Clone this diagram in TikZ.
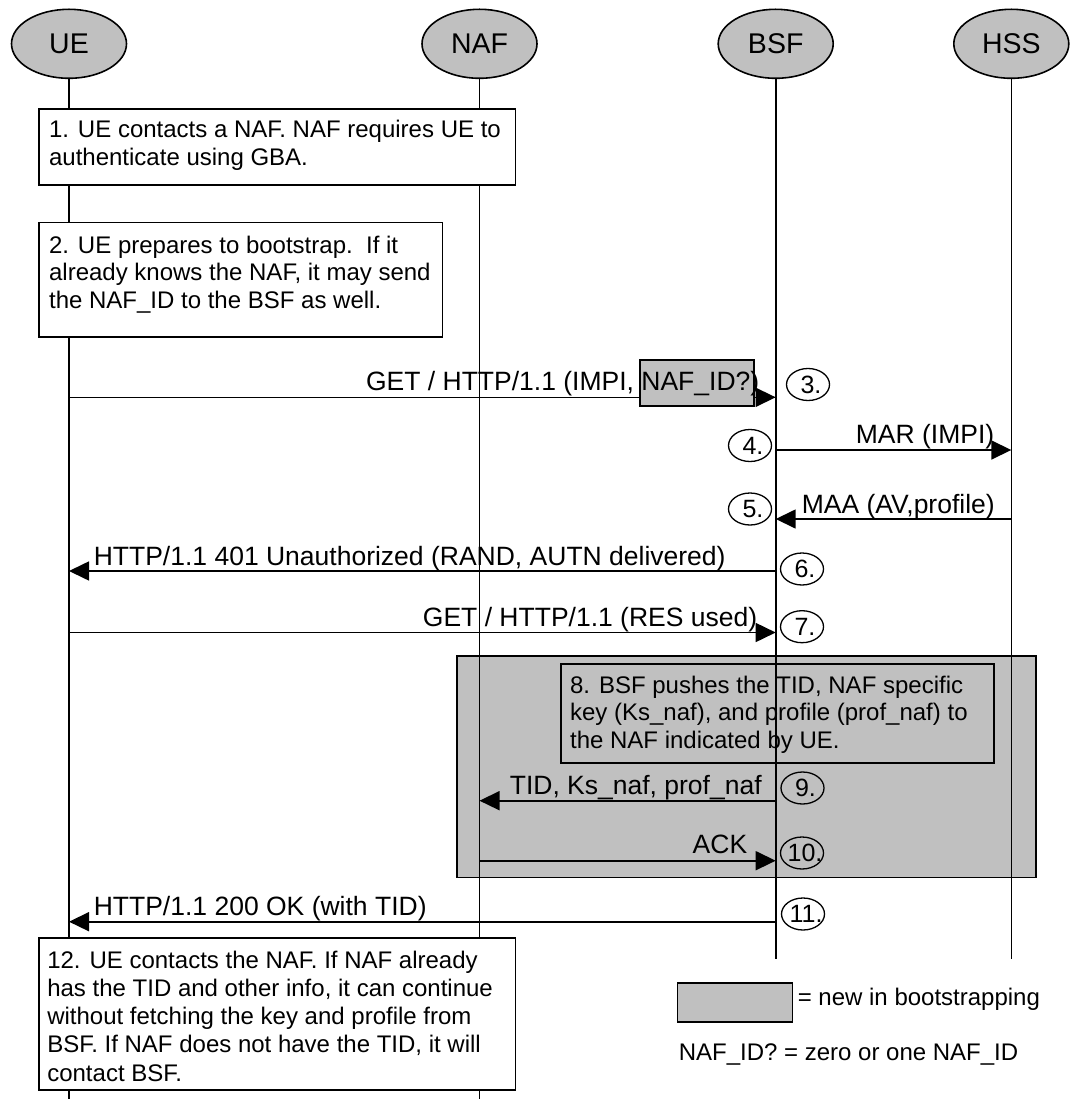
\documentclass[tikz,border=0pt]{standalone}
\usepackage{fontspec}
\setmainfont{Liberation Sans}
\usetikzlibrary{arrows.meta,shapes.geometric,calc}
\definecolor{gr}{RGB}{192,192,192}
\begin{document}
\begin{tikzpicture}[x=1pt,y=-1pt,line width=1.6pt,
  actor/.style={ellipse,draw,fill=gr,minimum width=115pt,minimum height=69pt,inner sep=0pt,font=\fontsize{28.5}{32}\selectfont},
  life/.style={line width=1.6pt},
  msg/.style={-{Triangle[length=20pt,width=19pt]}},
  lbl/.style={inner sep=0pt,font=\fontsize{24}{27.6}\selectfont},
  lbltall/.style={inner sep=0pt,font=\fontsize{24}{28.3}\selectfont},
  mlbl/.style={inner sep=0pt,font=\fontsize{26.5}{30}\selectfont},
  nlbl/.style={inner sep=0pt,font=\fontsize{25}{28}\selectfont},
  numc/.style={ellipse,draw,minimum width=43pt,minimum height=32pt,inner sep=0pt},
  wbox/.style={rectangle,draw,fill=white,inner sep=0pt,anchor=north west},
  gbox/.style={rectangle,draw,fill=gr,inner sep=0pt,anchor=north west}]
\useasboundingbox (0,0) rectangle (1073,1099);

% gray area for step 8
\node[gbox,minimum width=579pt,minimum height=221.7pt] (g8) at (456,655) {};
\node[gbox,minimum width=433.3pt,minimum height=99pt] (b8) at (560,663.3) {};
\node[lbl,anchor=base west] (t8) at ($(b8.north west)+(9.3,29.7)$) {\begin{tabular}[t]{@{}l@{}}8. BSF pushes the TID, NAF specific\\key (Ks\_naf), and profile (prof\_naf) to\\the NAF indicated by UE.\end{tabular}};

% actors
\node[actor] (UE) at (69,43.8) {UE};
\node[actor] (NAF) at (479.5,43.8) {NAF};
\node[actor] (BSF) at (775.7,43.8) {BSF};
\node[actor] (HSS) at (1011.3,43.8) {HSS};
\coordinate (UEend) at (69,1099);
\coordinate (NAFend) at (479.5,1099);
\coordinate (BSFend) at (775.7,959);
\coordinate (HSSend) at (1011.3,959);
\draw[life] (UE.south) -- (UEend);
\draw[life] (NAF.south) -- (NAFend);
\draw[life] (BSF.south) -- (BSFend);
\draw[life] (HSS.south) -- (HSSend);

% white boxes
\node[wbox,minimum width=476.5pt,minimum height=75.7pt] (b1) at (38.3,108.3) {};
\node[lbltall,anchor=base west] (t1) at ($(b1.north west)+(10,29)$) {\begin{tabular}[t]{@{}l@{}}1. UE contacts a NAF. NAF requires UE to\\authenticate using GBA.\end{tabular}};
\node[wbox,minimum width=403.5pt,minimum height=114.3pt] (b2) at (38.3,221.7) {};
\node[lbl,anchor=base west] (t2) at ($(b2.north west)+(10,31.6)$) {\begin{tabular}[t]{@{}l@{}}2. UE prepares to bootstrap.\ \ If it\\already knows the NAF, it may send\\the NAF\_ID to the BSF as well.\end{tabular}};
\node[wbox,minimum width=476.5pt,minimum height=152pt] (b12) at (38.3,937) {};
\node[lbltall,anchor=base west] (t12) at ($(b12.north west)+(8.2,31)$) {\begin{tabular}[t]{@{}l@{}}12. UE contacts the NAF. If NAF already\\has the TID and other info, it can continue\\without fetching the key and profile from\\BSF. If NAF does not have the TID, it will\\contact BSF.\end{tabular}};

% messages
\draw[msg] (UE |- 0,397.3) -- (BSF |- 0,397.3);
\node[gbox,minimum width=114.3pt,minimum height=46pt] (nafid) at (639,359) {};
\node[mlbl,anchor=base east] (m3) at (760,390.3) {GET / HTTP/1.1 (IMPI, NAF\_ID?)};

\draw[msg] (BSF |- 0,450) -- (HSS |- 0,450);
\node[mlbl,anchor=base east] (m4) at (995,443) {MAR (IMPI)};

\draw[msg] (HSS |- 0,519) -- (BSF |- 0,519);
\node[mlbl,anchor=base west] (m5) at (801,513) {MAA (AV,profile)};

\draw[msg] (BSF |- 0,571) -- (UE |- 0,571);
\node[mlbl,anchor=base west] (m6) at (93,565) {HTTP/1.1 401 Unauthorized (RAND, AUTN delivered)};

\draw[msg] (UE |- 0,632.5) -- (BSF |- 0,632.5);
\node[mlbl,anchor=base east] (m7) at (758,626) {GET / HTTP/1.1 (RES used)};

\draw[msg] (BSF |- 0,800.7) -- (NAF |- 0,800.7);
\node[mlbl,anchor=base west] (m9) at (509,794) {TID, Ks\_naf, prof\_naf};

\draw[msg] (NAF |- 0,860.7) -- (BSF |- 0,860.7);
\node[mlbl,anchor=base east] (m10) at (748,853.5) {ACK};

\draw[msg] (BSF |- 0,921.7) -- (UE |- 0,921.7);
\node[mlbl,anchor=base west] (m11) at (93,915) {HTTP/1.1 200 OK (with TID)};

% step numbers
\foreach \n/\cx/\cy in {3/808/384.5,4/750/445.5,5/750/509,6/802/569,7/802/626.7,9/802.5/788,10/802/853,11/803/914}{
  \node[numc,line width=1.3pt] (c\n) at (\cx,\cy) {};
  \node[nlbl] (n\n) at ($(c\n)+(3,0)$) {\n.};
}

% legend
\node[gbox,minimum width=115pt,minimum height=38.7pt] (leg) at (676.7,982.3) {};
\node[lbl,anchor=base west] (legt) at (797,1005.7) {= new in bootstrapping};
\node[lbl,anchor=base west] (legt2) at (678,1060) {NAF\_ID? = zero or one NAF\_ID};
\end{tikzpicture}
\end{document}
